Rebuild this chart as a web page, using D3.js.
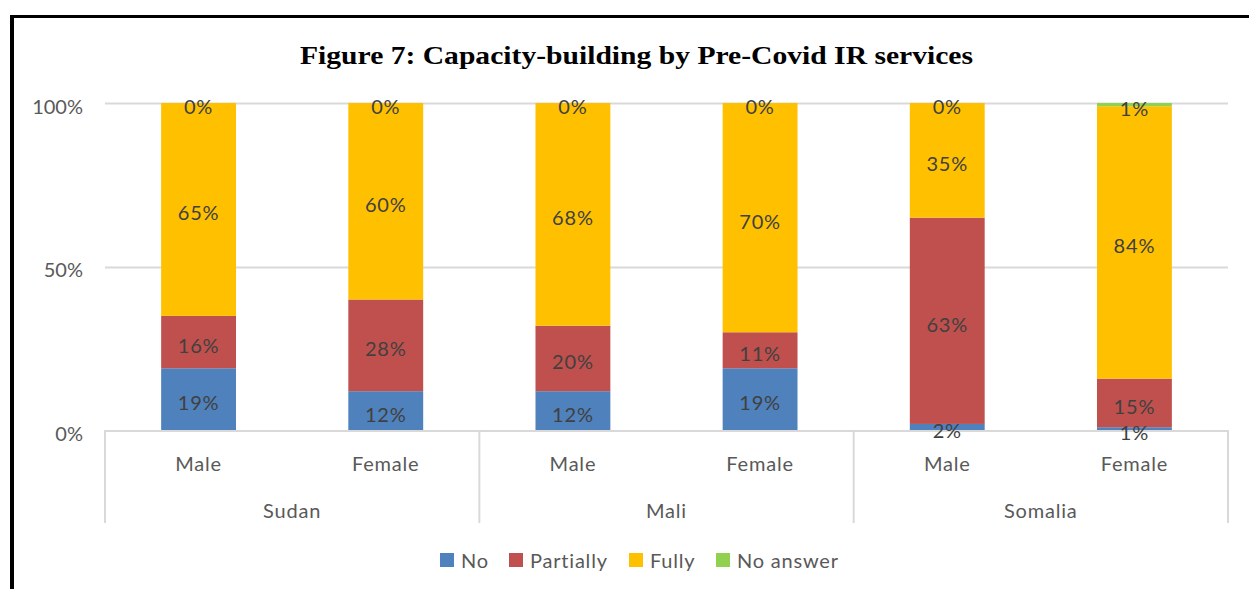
<!DOCTYPE html>
<html>
<head>
<meta charset="utf-8">
<script src="https://cdn.jsdelivr.net/npm/d3@7"></script>
<style>
  html, body { margin: 0; padding: 0; background: #fff; }
  svg { display: block; }
</style>
</head>
<body>
<svg id="chart" width="1249" height="589"></svg>
<script>
// Countries and the gender split shown for each
const countries = ["Sudan", "Mali", "Somalia"];
const genders = ["Male", "Female"];

// Answer categories, bottom to top of each stack
const seriesNames = ["No", "Partially", "Fully", "No answer"];
const seriesColors = ["#4f81bd", "#c0504d", "#ffc000", "#92d050"];

// Percentages per bar (Sudan M, Sudan F, Mali M, Mali F, Somalia M, Somalia F)
const noValues        = [19, 12, 12, 19, 2, 1];
const partiallyValues = [16, 28, 20, 11, 63, 15];
const fullyValues     = [65, 60, 68, 70, 35, 84];
const noAnswerValues  = [0, 0, 0, 0, 0, 1];

const yTicks = [0, 0.5, 1];
const yTickLabels = ["0%", "50%", "100%"];

const titleText = "Figure 7: Capacity-building by Pre-Covid IR services";

// Build rows for the stack layout
const rows = [];
countries.forEach((c, ci) => {
  genders.forEach((g, gi) => {
    const i = ci * genders.length + gi;
    rows.push({
      key: c + "|" + g,
      country: c,
      gender: g,
      "No": noValues[i],
      "Partially": partiallyValues[i],
      "Fully": fullyValues[i],
      "No answer": noAnswerValues[i]
    });
  });
});

const svg = d3.select("#chart");
const W = 1249, H = 589;

const plot = { left: 105, right: 1228, top: 103, bottom: 430.5 };
const axisFont = "Lato, 'Open Sans', sans-serif";

// Frame lines along top and left edges
svg.append("line")
  .attr("x1", 10).attr("x2", W).attr("y1", 16.5).attr("y2", 16.5)
  .attr("stroke", "#000").attr("stroke-width", 3);
svg.append("line")
  .attr("x1", 12).attr("x2", 12).attr("y1", 15).attr("y2", H)
  .attr("stroke", "#000").attr("stroke-width", 4);

// Title
svg.append("text")
  .attr("x", 636.5).attr("y", 64)
  .attr("text-anchor", "middle")
  .attr("font-family", "'Liberation Serif', 'Times New Roman', serif")
  .attr("font-weight", "bold")
  .attr("font-size", 26)
  .attr("fill", "#000")
  .attr("textLength", 673)
  .attr("lengthAdjust", "spacingAndGlyphs")
  .text(titleText);

// Scales
const x = d3.scaleBand()
  .domain(rows.map(d => d.key))
  .range([plot.left, plot.right])
  .paddingInner(0.6)
  .paddingOuter(0.3);

const y = d3.scaleLinear()
  .domain([0, 1])
  .range([plot.bottom, plot.top]);

// Gridlines
svg.append("g")
  .selectAll("line")
  .data(yTicks.filter(t => t > 0))
  .join("line")
  .attr("x1", plot.left).attr("x2", plot.right)
  .attr("y1", d => Math.round(y(d)) + 0.5).attr("y2", d => Math.round(y(d)) + 0.5)
  .attr("stroke", "#d9d9d9").attr("stroke-width", 2);

// Y axis labels
const yAxis = d3.axisLeft(y)
  .tickValues(yTicks)
  .tickFormat((d, i) => yTickLabels[i])
  .tickSize(0)
  .tickPadding(0);
const yg = svg.append("g")
  .attr("transform", `translate(${83},0)`)
  .call(yAxis);
yg.select(".domain").remove();
yg.selectAll("text")
  .attr("font-family", axisFont)
  .attr("font-size", 20)
  .attr("fill", "#595959")
  .attr("dy", null)
  .attr("dominant-baseline", "alphabetic")
  .attr("transform", "translate(0,10)");

// Stacked bars, each bar scaled to 100% of its total
const stack = d3.stack()
  .keys(seriesNames)
  .offset(d3.stackOffsetExpand);
const stacked = stack(rows);
const color = d3.scaleOrdinal().domain(seriesNames).range(seriesColors);

const barGroups = svg.append("g")
  .selectAll("g")
  .data(stacked)
  .join("g")
  .attr("fill", d => color(d.key));

barGroups.selectAll("rect")
  .data(d => d)
  .join("rect")
  .attr("x", d => x(d.data.key))
  .attr("width", x.bandwidth())
  .attr("y", d => y(d[1]))
  .attr("height", d => Math.max(0, y(d[0]) - y(d[1])));

// Category axis: baseline and group separators
const catLineColor = "#d9d9d9";
svg.append("line")
  .attr("x1", plot.left).attr("x2", plot.right)
  .attr("y1", 431).attr("y2", 431)
  .attr("stroke", catLineColor).attr("stroke-width", 2);

const groupStep = (plot.right - plot.left) / countries.length;
const sepX = d3.range(countries.length + 1).map(i => plot.left + i * groupStep);
svg.append("g")
  .selectAll("line")
  .data(sepX)
  .join("line")
  .attr("x1", d => d).attr("x2", d => d)
  .attr("y1", 430).attr("y2", 523)
  .attr("stroke", catLineColor).attr("stroke-width", 2);

// Gender labels under each bar
svg.append("g")
  .selectAll("text")
  .data(rows)
  .join("text")
  .attr("x", d => x(d.key) + x.bandwidth() / 2)
  .attr("y", 471)
  .attr("text-anchor", "middle")
  .attr("font-family", axisFont)
  .attr("font-size", 20)
  .attr("letter-spacing", 0.8)
  .attr("fill", "#595959")
  .text(d => d.gender);

// Country labels
svg.append("g")
  .selectAll("text")
  .data(countries)
  .join("text")
  .attr("x", (d, i) => plot.left + (i + 0.5) * groupStep)
  .attr("y", 518)
  .attr("text-anchor", "middle")
  .attr("font-family", axisFont)
  .attr("font-size", 20)
  .attr("letter-spacing", 0.8)
  .attr("fill", "#595959")
  .text(d => d);

// Data labels centred on each segment
const labelData = [];
stacked.forEach(s => {
  s.forEach(d => {
    labelData.push({
      cx: x(d.data.key) + x.bandwidth() / 2,
      cy: (y(d[0]) + y(d[1])) / 2,
      value: d.data[s.key]
    });
  });
});
svg.append("g")
  .selectAll("text")
  .data(labelData)
  .join("text")
  .attr("x", d => d.cx)
  .attr("y", d => d.cy + 11)
  .attr("text-anchor", "middle")
  .attr("font-family", axisFont)
  .attr("font-size", 20)
  .attr("letter-spacing", 0.8)
  .attr("fill", "#404040")
  .text(d => d.value + "%");

// Legend
const legendItems = [
  { name: "No", sx: 440 },
  { name: "Partially", sx: 509 },
  { name: "Fully", sx: 629 },
  { name: "No answer", sx: 716 }
];
const lg = svg.append("g")
  .selectAll("g")
  .data(legendItems)
  .join("g");
lg.append("rect")
  .attr("x", d => d.sx).attr("y", 553)
  .attr("width", 14).attr("height", 14)
  .attr("fill", d => color(d.name));
lg.append("text")
  .attr("x", d => d.sx + 21).attr("y", 568)
  .attr("font-family", axisFont)
  .attr("font-size", 20)
  .attr("letter-spacing", 0.8)
  .attr("fill", "#595959")
  .text(d => d.name);
</script>
</body>
</html>
